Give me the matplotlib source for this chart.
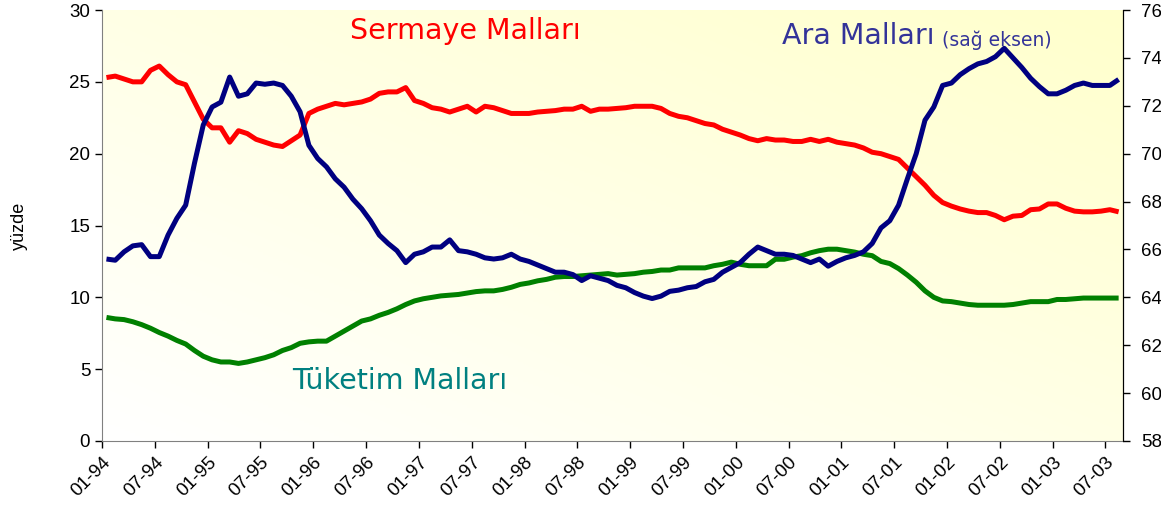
import matplotlib
matplotlib.use("Agg")
import matplotlib.pyplot as plt
import numpy as np
from matplotlib.colors import LinearSegmentedColormap

# monthly shares, 01-94 .. 08-03
sermaye = [25.3, 25.4, 25.2, 25.0, 25.0, 25.8, 26.1, 25.5, 25.0, 24.8,
           23.6, 22.4, 21.8, 21.8, 20.8, 21.6, 21.4, 21.0, 20.8, 20.6,
           20.5, 20.9, 21.3, 22.8, 23.1, 23.3, 23.5, 23.4, 23.5, 23.6,
           23.8, 24.2, 24.3, 24.3, 24.6, 23.7, 23.5, 23.2, 23.1, 22.9,
           23.1, 23.3, 22.9, 23.3, 23.2, 23.0, 22.8, 22.8, 22.8, 22.9,
           22.95, 23.0, 23.1, 23.1, 23.3, 22.95, 23.1, 23.1, 23.15, 23.2,
           23.3, 23.3, 23.3, 23.15, 22.8, 22.6, 22.5, 22.3, 22.1, 22.0,
           21.7, 21.5, 21.3, 21.05, 20.9, 21.05, 20.95, 20.95, 20.85, 20.85,
           21.0, 20.85, 21.0, 20.8, 20.7, 20.6, 20.4, 20.1, 20.0, 19.8,
           19.6, 19.0, 18.4, 17.8, 17.1, 16.6, 16.35, 16.15, 16.0, 15.9,
           15.9, 15.7, 15.4, 15.65, 15.7, 16.1, 16.15, 16.5, 16.5, 16.2,
           16.0, 15.95, 15.95, 16.0, 16.1, 15.95]
tuketim = [8.6, 8.5, 8.45, 8.3, 8.1, 7.85, 7.55, 7.3, 7.0, 6.75,
           6.3, 5.9, 5.65, 5.5, 5.5, 5.4, 5.5, 5.65, 5.8, 6.0,
           6.3, 6.5, 6.8, 6.9, 6.95, 6.95, 7.3, 7.65, 8.0, 8.35,
           8.5, 8.75, 8.95, 9.2, 9.5, 9.75, 9.9, 10.0, 10.1, 10.15,
           10.2, 10.3, 10.4, 10.45, 10.45, 10.55, 10.7, 10.9, 11.0, 11.15,
           11.25, 11.4, 11.45, 11.45, 11.5, 11.55, 11.6, 11.65, 11.55, 11.6,
           11.65, 11.75, 11.8, 11.9, 11.9, 12.05, 12.05, 12.05, 12.05, 12.2,
           12.3, 12.45, 12.3, 12.2, 12.2, 12.2, 12.65, 12.65, 12.8, 12.9,
           13.1, 13.25, 13.35, 13.35, 13.25, 13.15, 13.0, 12.9, 12.5, 12.35,
           12.0, 11.55, 11.05, 10.45, 10.0, 9.75, 9.7, 9.6, 9.5, 9.45,
           9.45, 9.45, 9.45, 9.5, 9.6, 9.7, 9.7, 9.7, 9.85, 9.85,
           9.9, 9.95, 9.95, 9.95, 9.95, 9.95]
ara = [65.6, 65.55, 65.9, 66.15, 66.2, 65.7, 65.7, 66.6, 67.3, 67.85,
       69.6, 71.2, 71.95, 72.15, 73.2, 72.4, 72.5, 72.95, 72.9, 72.95,
       72.85, 72.4, 71.75, 70.35, 69.8, 69.45, 68.95, 68.6, 68.1, 67.7,
       67.2, 66.6, 66.25, 65.95, 65.45, 65.8, 65.9, 66.1, 66.1, 66.4,
       65.95, 65.9, 65.8, 65.65, 65.6, 65.65, 65.8, 65.6, 65.5, 65.35,
       65.2, 65.05, 65.05, 64.95, 64.7, 64.9, 64.8, 64.7, 64.5, 64.4,
       64.2, 64.05, 63.95, 64.05, 64.25, 64.3, 64.4, 64.45, 64.65, 64.75,
       65.05, 65.25, 65.45, 65.8, 66.1, 65.95, 65.8, 65.8, 65.75, 65.6,
       65.45, 65.6, 65.3, 65.5, 65.65, 65.75, 65.9, 66.25, 66.9, 67.2,
       67.85, 68.95, 70.0, 71.4, 71.95, 72.85, 72.95, 73.3, 73.55, 73.75,
       73.85, 74.05, 74.4, 74.0, 73.6, 73.15, 72.8, 72.5, 72.5, 72.65,
       72.85, 72.95, 72.85, 72.85, 72.85, 73.1]
tick_labels = ["01-94", "07-94", "01-95", "07-95", "01-96", "07-96", "01-97",
               "07-97", "01-98", "07-98", "01-99", "07-99", "01-00", "07-00",
               "01-01", "07-01", "01-02", "07-02", "01-03", "07-03"]

x = np.arange(len(sermaye))
plt.rcParams["font.family"] = ["Liberation Sans", "DejaVu Sans"]

fig = plt.figure(figsize=(11.61, 5.22), dpi=100)
ax = fig.add_axes([0.0879, 0.1552, 0.8794, 0.8256])
ax2 = ax.twinx()

# background gradient: white bottom-left -> pale yellow top-right
gx, gy = np.meshgrid(np.linspace(0, 1, 200), np.linspace(0, 1, 200))
grad = (gx + gy) / 2
cmap = LinearSegmentedColormap.from_list("bg", ["#ffffff", "#ffffcc"])
ax.imshow(grad, cmap=cmap, origin="lower", aspect="auto",
          extent=[-0.5, len(x) - 0.5, 0, 30], zorder=0)

ax.plot(x, sermaye, color="#ff0000", lw=3.6, zorder=3, solid_capstyle="butt")
ax.plot(x, tuketim, color="#008000", lw=3.6, zorder=3, solid_capstyle="butt")
ax2.plot(x, ara, color="#000080", lw=3.6, zorder=3, solid_capstyle="butt")

ax.set_xlim(-0.5, len(x) - 0.5)
ax.set_ylim(0, 30)
ax2.set_ylim(58, 76)
ax.set_yticks(range(0, 31, 5))
ax2.set_yticks(range(58, 77, 2))
ax.set_xticks(np.arange(len(tick_labels)) * 6 - 0.5)
ax.set_xticklabels(tick_labels, rotation=45, ha="right", va="top",
                   rotation_mode="anchor")

for a in (ax, ax2):
    a.spines["top"].set_visible(False)
    a.tick_params(labelsize=13.5, length=5, width=1)
ax.spines["left"].set_color("#808080")
ax.spines["bottom"].set_color("#808080")
ax2.spines["left"].set_visible(False)
ax2.spines["bottom"].set_visible(False)
ax2.spines["right"].set_color("black")
ax2.tick_params(axis="y", pad=8)
ax.tick_params(axis="x", pad=4)

ax.set_ylabel("yüzde", fontsize=13, labelpad=30)

ax.text(0.356, 0.952, "Sermaye Malları", transform=ax.transAxes, color="#ff0000",
        fontsize=20.5, family="DejaVu Sans", ha="center", va="center")
ax.text(0.666, 0.94, "Ara Malları", transform=ax.transAxes, color="#333399",
        fontsize=20.5, family="DejaVu Sans", ha="left", va="center")
ax.text(0.823, 0.93, "(sağ eksen)", transform=ax.transAxes, color="#333399",
        fontsize=13.5, family="DejaVu Sans", ha="left", va="center")
ax.text(0.186, 0.14, "Tüketim Malları", transform=ax.transAxes, color="#008080",
        fontsize=20.5, family="DejaVu Sans", ha="left", va="center")

fig.savefig("out.png", dpi=100, facecolor="white")
